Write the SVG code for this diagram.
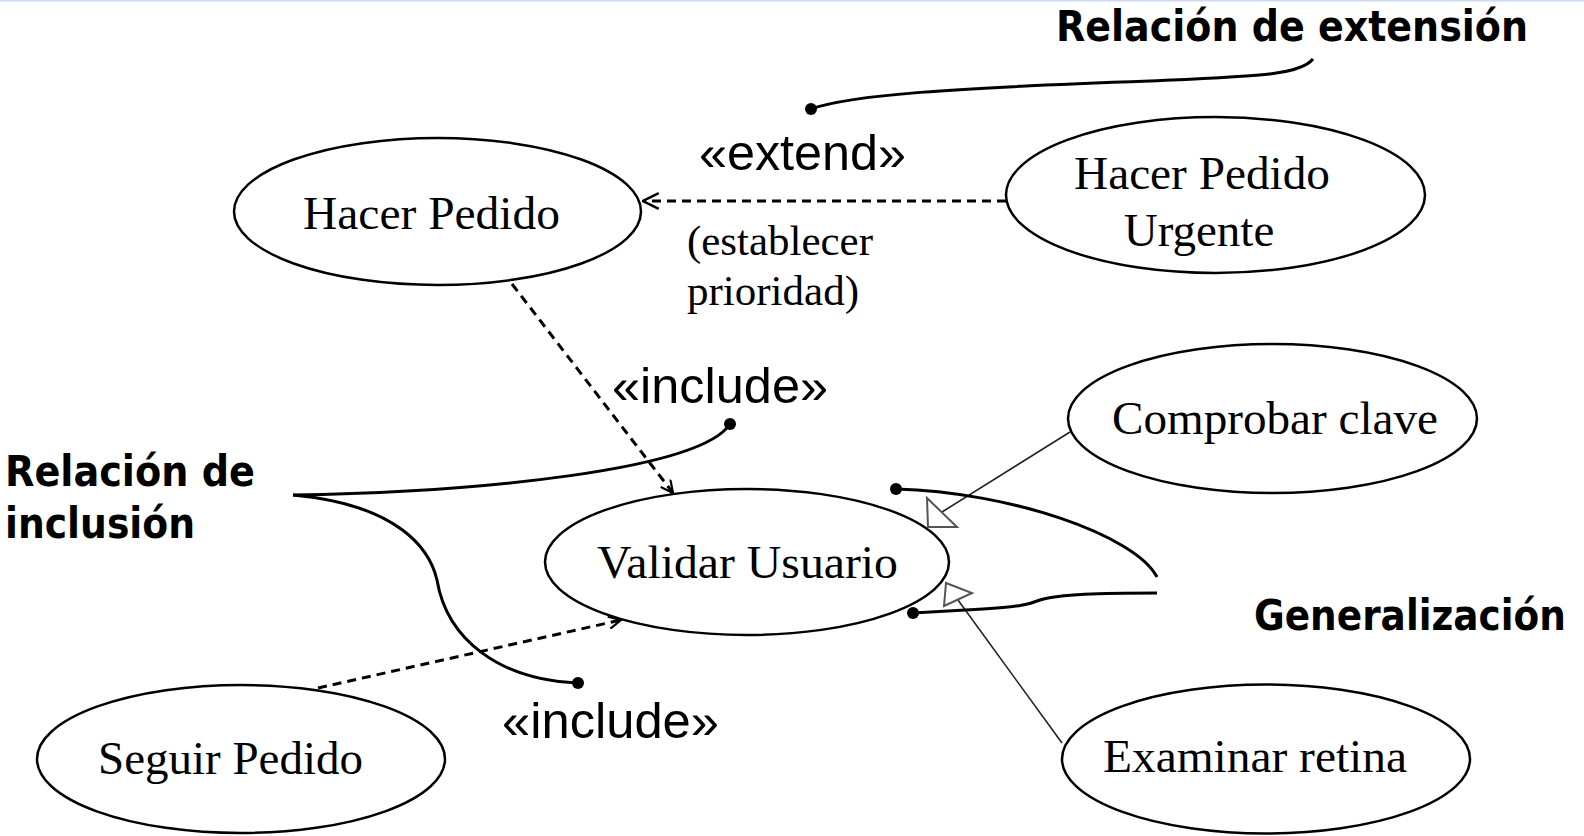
<svg xmlns="http://www.w3.org/2000/svg" width="1584" height="836" viewBox="0 0 1584 836">
<defs>
<style>
.uc{fill:#fff;stroke:#000;stroke-width:2.5}
.ser{font-family:"Liberation Serif","Times New Roman",serif;fill:#000}
.ucl{font-size:47px;text-anchor:middle}
.st{font-family:"Liberation Sans",Arial,sans-serif;font-size:50px;fill:#000}
.bold{font-family:"DejaVu Sans",Verdana,sans-serif;font-weight:bold;font-size:43px;fill:#000}
.dash{fill:none;stroke:#000;stroke-width:3;stroke-dasharray:9 6}
.gen{fill:none;stroke:#222;stroke-width:1.6}
.tri{fill:#fff;stroke:#555;stroke-width:2}
.call{fill:none;stroke:#000;stroke-width:3}
.dot{fill:#000}
</style>
<marker id="openS" viewBox="0 0 16 16" refX="15" refY="8" markerWidth="14" markerHeight="14" markerUnits="userSpaceOnUse" orient="auto">
<path d="M1,1 L15,8 L1,15" fill="none" stroke="#000" stroke-width="2.5"/>
</marker>
<marker id="openL" viewBox="0 0 16 16" refX="15" refY="8" markerWidth="18" markerHeight="18" markerUnits="userSpaceOnUse" orient="auto">
<path d="M1,1 L15,8 L1,15" fill="none" stroke="#000" stroke-width="2.2"/>
</marker>
</defs>
<rect x="0" y="0" width="1584" height="836" fill="#fff"/>
<rect x="0" y="0" width="1584" height="1.5" fill="#c9dcf7"/>

<g id="hacer-pedido">
<ellipse class="uc" cx="437.5" cy="211.5" rx="203.5" ry="73.5"/>
<text class="ser ucl" x="431.5" y="229" textLength="257" lengthAdjust="spacingAndGlyphs">Hacer Pedido</text>
</g>
<g id="hacer-pedido-urgente">
<ellipse class="uc" cx="1215.5" cy="195" rx="209.5" ry="78"/>
<text class="ser ucl" x="1202" y="189" textLength="256" lengthAdjust="spacingAndGlyphs">Hacer Pedido</text>
<text class="ser ucl" x="1199" y="246">Urgente</text>
</g>
<g id="validar-usuario">
<ellipse class="uc" cx="747" cy="562" rx="202" ry="73"/>
<text class="ser ucl" x="747.5" y="578" textLength="301" lengthAdjust="spacingAndGlyphs">Validar Usuario</text>
</g>
<g id="seguir-pedido">
<ellipse class="uc" cx="241" cy="759" rx="204" ry="74"/>
<text class="ser ucl" x="230.5" y="774" textLength="265" lengthAdjust="spacingAndGlyphs">Seguir Pedido</text>
</g>
<g id="comprobar-clave">
<ellipse class="uc" cx="1272.5" cy="418.5" rx="204.5" ry="74.5"/>
<text class="ser ucl" x="1275" y="434" textLength="326" lengthAdjust="spacingAndGlyphs">Comprobar clave</text>
</g>
<g id="examinar-retina">
<ellipse class="uc" cx="1266" cy="759" rx="204" ry="74.5"/>
<text class="ser ucl" x="1255" y="772" textLength="304" lengthAdjust="spacingAndGlyphs">Examinar retina</text>
</g>

<g id="connectors">
<path class="dash" d="M1006,201 L643,201" marker-end="url(#openL)"/>
<path class="dash" d="M512,284 L673,493" marker-end="url(#openS)"/>
<path class="dash" d="M318,688 L621,620" marker-end="url(#openS)"/>
<path class="gen" d="M1070,432 L942,512"/>
<polygon class="tri" points="928,527 927,498 957,527"/>
<path class="gen" d="M1062,743 L958,600"/>
<polygon class="tri" points="946,583 944,606 972,593"/>
<path class="call" d="M1313,59 C1300,75 1260,76 1150,81 C950,88 850,95 811,109"/>
<circle class="dot" cx="811" cy="109" r="6"/>
<path class="call" d="M293,495 C480,492 700,470 730,424"/>
<circle class="dot" cx="730" cy="424" r="6"/>
<path class="call" d="M293,495 C400,505 430,550 437,580 C447,640 500,680 578,683"/>
<circle class="dot" cx="578" cy="683" r="6"/>
<path class="call" d="M896,489 C1010,492 1135,535 1157,577"/>
<circle class="dot" cx="896" cy="489" r="6"/>
<path class="call" d="M913,613 L983,609 C1020,607 1030,604 1040,600 C1060,594 1100,593 1157,593"/>
<circle class="dot" cx="913" cy="613" r="6"/>
</g>

<g id="labels">
<text class="st" x="699" y="170" textLength="207" lengthAdjust="spacingAndGlyphs">«extend»</text>
<text class="ser" x="687" y="255" font-size="43" textLength="186" lengthAdjust="spacingAndGlyphs">(establecer</text>
<text class="ser" x="687" y="305" font-size="43" textLength="172" lengthAdjust="spacingAndGlyphs">prioridad)</text>
<text class="st" x="612" y="403" textLength="216" lengthAdjust="spacingAndGlyphs">«include»</text>
<text class="st" x="502" y="738" textLength="217" lengthAdjust="spacingAndGlyphs">«include»</text>
<text class="bold" x="1056" y="41" textLength="472" lengthAdjust="spacingAndGlyphs">Relación de extensión</text>
<text class="bold" x="5" y="486" textLength="250" lengthAdjust="spacingAndGlyphs">Relación de</text>
<text class="bold" x="5" y="538" textLength="190" lengthAdjust="spacingAndGlyphs">inclusión</text>
<text class="bold" x="1254" y="630" textLength="312" lengthAdjust="spacingAndGlyphs">Generalización</text>
</g>
</svg>
